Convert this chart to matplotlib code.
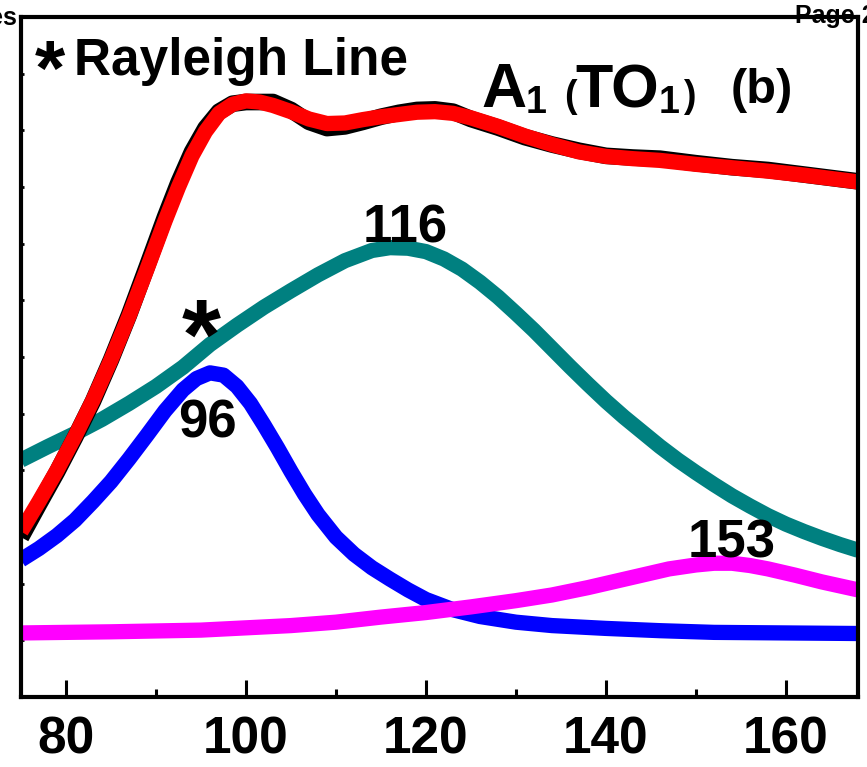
"""
A1(TO1) low-frequency Raman band: measured spectrum, fitted envelope
and the three peak components (96, 116 and 153 cm-1).
"""

import matplotlib.pyplot as plt
from matplotlib.ticker import MultipleLocator

plt.rcParams['font.family'] = ['Liberation Sans', 'DejaVu Sans']
plt.rcParams['font.weight'] = 'bold'

# measured spectrum (black) and fitted envelope (red), same wavenumbers
env_x = [75, 77, 79, 81, 83, 85, 87, 89, 91, 92.5, 94, 95.5, 97, 98.5, 100,
         101.5, 103, 105, 107, 109, 111, 113, 115, 117, 119, 121, 123, 125,
         128, 131, 134, 137, 140, 143, 146, 150, 154, 158, 162, 165, 168]
fit_y = [2.92, 3.45, 4.0, 4.6, 5.24, 5.95, 6.72, 7.55, 8.4, 9.0, 9.55, 9.98,
         10.3, 10.46, 10.52, 10.5, 10.44, 10.33, 10.2, 10.12, 10.13, 10.19,
         10.24, 10.28, 10.32, 10.33, 10.3, 10.22, 10.07, 9.9, 9.75, 9.62,
         9.54, 9.5, 9.47, 9.4, 9.34, 9.28, 9.21, 9.15, 9.09]
data_y = [2.82, 3.4, 3.97, 4.58, 5.22, 5.95, 6.74, 7.6, 8.47, 9.08, 9.62,
          10.04, 10.33, 10.47, 10.5, 10.5, 10.5, 10.36, 10.15, 10.04, 10.07,
          10.15, 10.24, 10.31, 10.36, 10.37, 10.33, 10.2, 10.05, 9.88, 9.75,
          9.64, 9.55, 9.52, 9.5, 9.42, 9.35, 9.3, 9.22, 9.16, 9.1]

# component peaks
p96_x = [75, 77, 79, 81, 83, 85, 87, 89, 91, 93, 94.5, 96, 97.5, 99, 100.5,
         102, 103.5, 105, 106.5, 108, 110, 112, 114, 116, 118, 120, 123, 126,
         130, 134, 140, 146, 152, 160, 168]
p96_y = [2.42, 2.62, 2.85, 3.12, 3.45, 3.8, 4.2, 4.62, 5.05, 5.42, 5.62,
         5.72, 5.68, 5.48, 5.18, 4.8, 4.4, 3.98, 3.58, 3.22, 2.82, 2.52,
         2.28, 2.08, 1.89, 1.72, 1.54, 1.42, 1.32, 1.26, 1.21, 1.17, 1.14,
         1.13, 1.12]

p116_x = [75, 78, 81, 84, 87, 90, 93, 96, 99, 102, 105, 108, 111, 114, 116,
          118, 120, 122, 124, 126, 128, 130, 132, 134, 136, 138, 140, 142,
          144, 146, 148, 150, 152, 154, 156, 158, 160, 162, 164, 166, 168]
p116_y = [4.18, 4.42, 4.65, 4.9, 5.18, 5.48, 5.82, 6.22, 6.56, 6.88, 7.17,
          7.45, 7.7, 7.88, 7.93, 7.92, 7.86, 7.73, 7.55, 7.32, 7.06, 6.77,
          6.47, 6.15, 5.83, 5.52, 5.22, 4.94, 4.68, 4.42, 4.18, 3.96, 3.75,
          3.55, 3.37, 3.2, 3.05, 2.92, 2.8, 2.69, 2.59]

p153_x = [75, 85, 95, 105, 110, 115, 120, 125, 130, 134, 138, 141, 144, 147,
          150, 152, 154, 156, 158, 161, 164, 168]
p153_y = [1.13, 1.15, 1.18, 1.26, 1.32, 1.41, 1.49, 1.59, 1.7, 1.8, 1.93,
          2.04, 2.15, 2.26, 2.33, 2.36, 2.36, 2.32, 2.26, 2.15, 2.03, 1.89]

peak_labels = [(95.7, 4.82, "96"), (117.7, 8.26, "116"), (154.0, 2.70, "153")]

fig = plt.figure(figsize=(8.67, 7.67), dpi=100)
ax = fig.add_axes([0.0242, 0.0913, 0.9654, 0.8865])

style = dict(lw=11, solid_capstyle='butt', solid_joinstyle='round')
ax.plot(p116_x, p116_y, color='#008080', **style)
ax.plot(p96_x, p96_y, color='#0000FF', **style)
ax.plot(p153_x, p153_y, color='#FF00FF', **style)
ax.plot(env_x, data_y, color='black', lw=12, solid_capstyle='butt',
        solid_joinstyle='round')
ax.plot(env_x, fit_y, color='#FF0000', **style)

for x, y, s in peak_labels:
    ax.text(x, y, s, fontsize=38, fontweight='bold', ha='center',
            va='center')

# Rayleigh line marker on the spectrum
ax.text(95.0, 6.25, "*", fontsize=72, fontweight='bold', ha='center',
        va='center')

ax.set_xlim(75, 168)
ax.set_ylim(0, 12)
ax.xaxis.set_major_locator(MultipleLocator(20))
ax.xaxis.set_minor_locator(MultipleLocator(10))
ax.yaxis.set_major_locator(MultipleLocator(1))
ax.tick_params(axis='x', which='major', direction='in', length=12, width=2.2,
               labelsize=37, pad=13)
ax.tick_params(axis='x', which='minor', direction='in', length=6, width=2.2)
ax.tick_params(axis='y', which='both', direction='in', length=2, width=2,
               labelleft=False)
for lab in ax.get_xticklabels():
    lab.set_fontweight('bold')
for sp in ax.spines.values():
    sp.set_linewidth(3)

# headings, placed in figure pixels from the top-left corner
W, H = 867.0, 767.0


def ftext(px, py, s, size):
    fig.text(px / W, 1 - py / H, s, fontsize=size, fontweight='bold',
             va='baseline')


ftext(35, 95, "*", 56)
ftext(74, 75, "Rayleigh Line", 37)
ftext(481, 107, "A", 45)
ftext(526, 113, "1", 27)
ftext(564, 107, "(", 27)
ftext(575, 107, "TO", 44)
ftext(659, 113, "1", 27)
ftext(683, 107, ")", 27)
ftext(731, 103, "(b)", 35)

# running header of the source page
ftext(-11, 25, "es", 18)
ftext(795, 23, "Page 2", 18)

fig.savefig("out.png", dpi=100)
